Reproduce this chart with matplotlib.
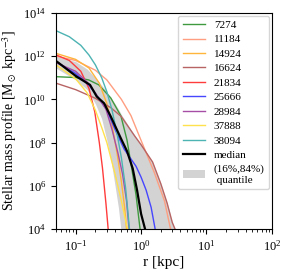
import numpy as np
import matplotlib
matplotlib.use("Agg")
import matplotlib.pyplot as plt
from matplotlib.ticker import NullLocator

plt.rcParams["font.family"] = ["Liberation Serif", "DejaVu Serif"]
plt.rcParams["mathtext.fontset"] = "stix"

# radius [kpc] and log10 stellar mass density [Msun kpc^-3]
r_7274 = [0.05, 0.1, 0.158, 0.226, 0.345, 0.492, 0.609, 0.727, 0.838, 0.965]
lg_7274 = [11.05, 11.01, 10.9, 10.67, 10.06, 9.23, 8.12, 6.73, 5.57, 4.0]

r_11184 = [0.05, 0.1, 0.2, 0.3, 0.5, 0.7, 1.0, 1.6, 2.28, 2.82]
lg_11184 = [12.0, 11.8, 11.35, 10.9, 10.0, 9.25, 8.1, 6.6, 5.3, 4.0]

r_14924 = [0.05, 0.1, 0.16, 0.23, 0.3, 0.36, 0.43, 0.5, 0.56, 0.6]
lg_14924 = [12.13, 11.85, 11.45, 10.75, 9.8, 8.8, 7.5, 6.2, 5.0, 4.0]

r_16624 = [0.05, 0.1, 0.2, 0.35, 0.5, 0.8, 1.0, 1.5, 2.0, 2.5, 3.0, 3.3]
lg_16624 = [10.75, 10.45, 10.05, 9.6, 9.2, 8.3, 7.9, 7.1, 6.1, 5.2, 4.3, 4.0]

r_21834 = [0.05, 0.08, 0.12, 0.16, 0.196, 0.23, 0.257, 0.29, 0.314]
lg_21834 = [12.06, 11.8, 11.3, 10.5, 9.42, 8.0, 6.82, 5.2, 4.0]

r_25666 = [0.05, 0.1, 0.16, 0.22, 0.3, 0.4, 0.55, 0.838, 1.0, 1.194, 1.425, 1.64]
lg_25666 = [11.75, 11.2, 10.65, 10.1, 9.5, 8.6, 7.7, 6.9, 6.4, 5.8, 5.0, 4.0]

r_28984 = [0.05, 0.1, 0.15, 0.2, 0.29, 0.36, 0.44, 0.52, 0.6, 0.655]
lg_28984 = [11.7, 11.3, 10.8, 10.3, 9.55, 8.6, 7.55, 6.55, 5.3, 4.0]

r_37888 = [0.05, 0.1, 0.15, 0.2, 0.25, 0.3, 0.4, 0.5, 0.62]
lg_37888 = [11.6, 10.95, 10.3, 9.5, 8.7, 8.0, 6.55, 5.3, 4.0]

r_38094 = [0.05, 0.08, 0.12, 0.16, 0.2, 0.25, 0.3, 0.36, 0.43, 0.5, 0.58, 0.665]
lg_38094 = [13.18, 12.9, 12.5, 12.05, 11.6, 11.0, 10.35, 9.5, 8.4, 7.3, 5.9, 4.0]

r_median = [0.05, 0.104, 0.166, 0.21, 0.272, 0.345, 0.49, 0.61, 0.745, 0.868, 1.0, 1.15]
lg_median = [11.78, 11.05, 10.67, 10.13, 9.82, 9.2, 8.2, 7.6, 6.8, 5.8, 4.7, 4.0]

r_band = [0.05, 0.1, 0.15, 0.2, 0.25, 0.3, 0.35, 0.4, 0.45, 0.49, 0.5, 0.7, 1.0, 1.5, 2.0, 2.5, 3.0, 3.3]
lg_band_lo = [11.45, 10.9, 10.45, 9.8, 9.1, 8.1, 7.1, 6.0, 5.0, 4.0, 3.0, 3.0, 3.0, 3.0, 3.0, 3.0, 3.0, 3.0]
lg_band_hi = [12.0, 11.75, 11.4, 11.0, 10.65, 10.35, 10.05, 9.8, 9.55, 9.35, 9.3, 8.6, 7.9, 7.1, 6.1, 5.2, 4.3, 4.0]

names = ["7274", "11184", "14924", "16624", "21834", "25666", "28984", "37888", "38094"]
radii = [r_7274, r_11184, r_14924, r_16624, r_21834, r_25666, r_28984, r_37888, r_38094]
profiles = [lg_7274, lg_11184, lg_14924, lg_16624, lg_21834, lg_25666, lg_28984, lg_37888, lg_38094]
colors = ["#3f9a3f", "#ff9e80", "#ffb43c", "#b86464", "#ff3c3c", "#4646ff", "#a64da6", "#ffe14d", "#4db3b3"]

fig = plt.figure(figsize=(2.93, 2.70), dpi=100)
ax = fig.add_axes([0.191, 0.152, 0.737, 0.800])

ax.fill_between(r_band, 10 ** np.array(lg_band_lo), 10 ** np.array(lg_band_hi),
                color="#d3d3d3", linewidth=0, label="(16%,84%)\n quantile", zorder=1)

for name, r, lg, c in zip(names, radii, profiles, colors):
    ax.plot(r, 10 ** np.array(lg), color=c, lw=1.0, label=name, zorder=2)

ax.plot(r_median, 10 ** np.array(lg_median), color="black", lw=1.6, label="median", zorder=3)

ax.set_xscale("log")
ax.set_yscale("log")
ax.set_xlim(0.05, 100)
ax.set_ylim(1e4, 1e14)
ax.yaxis.set_minor_locator(NullLocator())
ax.set_xlabel("r [kpc]", fontsize=11, labelpad=2)
ax.set_ylabel(r"Stellar mass profile [M$_\odot$ kpc$^{-3}$]", fontsize=10, labelpad=3)
ax.tick_params(labelsize=9)

handles, labels = ax.get_legend_handles_labels()
handles = handles[1:] + handles[:1]
labels = labels[1:] + labels[:1]
ax.legend(handles, labels, loc="upper right", fontsize=8, borderaxespad=0.25,
          labelspacing=0.42, handlelength=2.0, handletextpad=0.8)

fig.savefig("out.png", dpi=100)
